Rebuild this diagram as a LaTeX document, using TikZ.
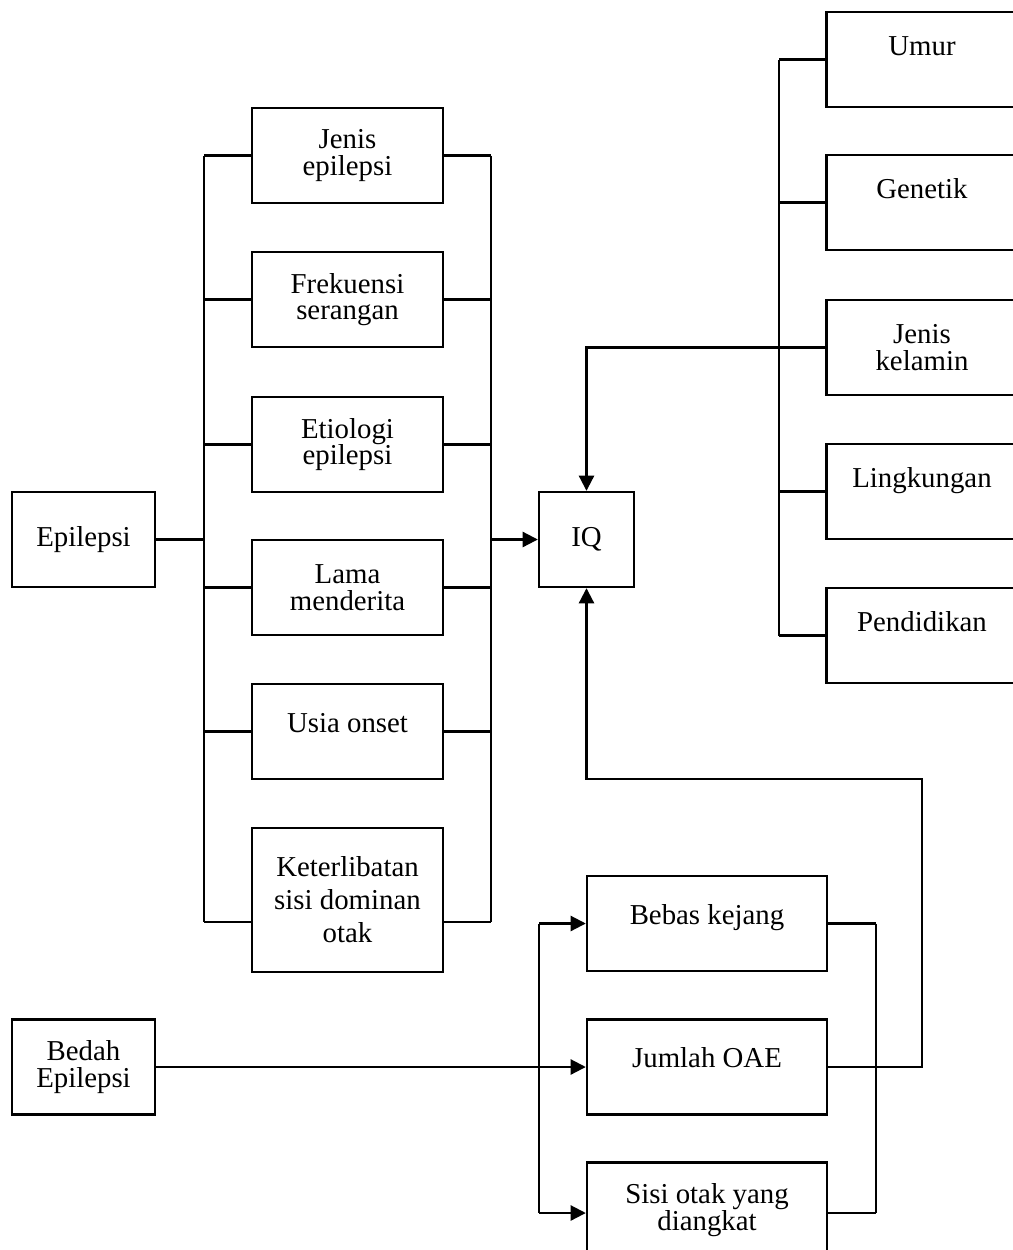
\documentclass[tikz,border=0pt]{standalone}
\usepackage{fontspec}
\setmainfont{Liberation Serif}
\usetikzlibrary{arrows.meta}

\begin{document}
\begin{tikzpicture}[x=0.025cm,y=-0.025cm,font=\fontsize{20.5}{19}\selectfont,
  box_style/.style={rectangle,draw=black,line width=1.7pt,align=center,inner sep=0pt},
  small_style/.style={box_style,minimum width=3.575cm,minimum height=2.375cm},
  left_style/.style={box_style,minimum width=4.775cm,minimum height=2.375cm},
  right_style/.style={box_style,minimum width=4.775cm,minimum height=2.375cm,text height=1.075cm,text depth=1.3cm},
  low_style/.style={box_style,minimum width=6cm,minimum height=2.375cm},
  mid_text/.style={text height=1.2cm,text depth=1.175cm},
  edge_style/.style={draw=black,line width=1.5pt},
  arrow_style/.style={edge_style,-{Triangle[length=0.38cm,width=0.38cm]}}]
  \useasboundingbox (0,0) rectangle (1013,1250);
  \clip (0,0) rectangle (1013,1250);

  % sources
  \node[small_style] (ep) at (83.5,539.5) {Epilepsi};
  \node[small_style] (bd) at (83.5,1067) {Bedah\\Epilepsi};

  % epilepsy factors
  \node[left_style] (v1) at (347.5,155.5) {Jenis\\epilepsi};
  \node[left_style] (v2) at (347.5,299.5) {Frekuensi\\serangan};
  \node[left_style] (v3) at (347.5,444.5) {Etiologi\\epilepsi};
  \node[left_style] (v4) at (347.5,587.5) {Lama\\menderita};
  \node[left_style,mid_text] (v5) at (347.5,731.5) {Usia onset};
  \node[left_style,minimum height=3.6cm,font=\fontsize{20.5}{23.4}\selectfont] (v6) at (347.5,900) {Keterlibatan\\sisi dominan\\otak};

  \node[box_style,minimum width=2.375cm,minimum height=2.375cm] (iq) at (586.5,539.5) {IQ};

  % other factors
  \node[right_style] (w1) at (922,59.5) {Umur};
  \node[right_style] (w2) at (922,202.5) {Genetik};
  \node[left_style] (w3) at (922,347.5) {Jenis\\kelamin};
  \node[right_style] (w4) at (922,491.5) {Lingkungan};
  \node[right_style] (w5) at (922,635.5) {Pendidikan};

  % surgery factors
  \node[low_style,mid_text] (b1) at (707,923.5) {Bebas kejang};
  \node[low_style,mid_text] (b2) at (707,1067) {Jumlah OAE};
  \node[low_style] (b3) at (707,1210) {Sisi otak yang\\diangkat};

  % buses
  \coordinate (la) at (204,155.5);
  \coordinate (lb) at (204,922);
  \coordinate (ra) at (491,155.5);
  \coordinate (rb) at (491,922);
  \coordinate (sa) at (779,59.5);
  \coordinate (sb) at (779,635.5);
  \coordinate (ba) at (539,923.5);
  \coordinate (bb) at (539,1213);
  \coordinate (ca) at (876,923.5);
  \coordinate (cb) at (876,1213);
  \coordinate (cc) at (922,779);

  \draw[edge_style] (la) -- (lb);
  \draw[edge_style] (ra) -- (rb);
  \draw[edge_style] (sa) -- (sb);
  \draw[edge_style] (ba) -- (bb);
  \draw[edge_style] (ca) -- (cb);

  \draw[edge_style] (ep.east) -- (ep.east -| la);
  \foreach \v in {v1,v2,v3,v4,v5} {
    \draw[edge_style] (\v.west) -- (\v.west -| la);
    \draw[edge_style] (\v.east) -- (\v.east -| ra);
  }
  \draw[edge_style] (v6.west |- lb) -- (lb);
  \draw[edge_style] (v6.east |- rb) -- (rb);
  \draw[arrow_style] (iq.west -| ra) -- (iq.west);

  \foreach \w in {w1,w2,w3,w4,w5}
    \draw[edge_style] (\w.west) -- (\w.west -| sa);
  \draw[arrow_style] (w3.west) -| (iq.north);

  \draw[arrow_style] (bd.east) -- (b2.west);
  \draw[arrow_style] (ba) -- (b1.west);
  \draw[arrow_style] (bb) -- (b3.west |- bb);
  \draw[edge_style] (b1.east) -- (b1.east -| ca);
  \draw[edge_style] (b3.east |- cb) -- (cb);
  \draw[arrow_style] (b2.east) -| (cc) -| (iq.south);
\end{tikzpicture}
\end{document}
